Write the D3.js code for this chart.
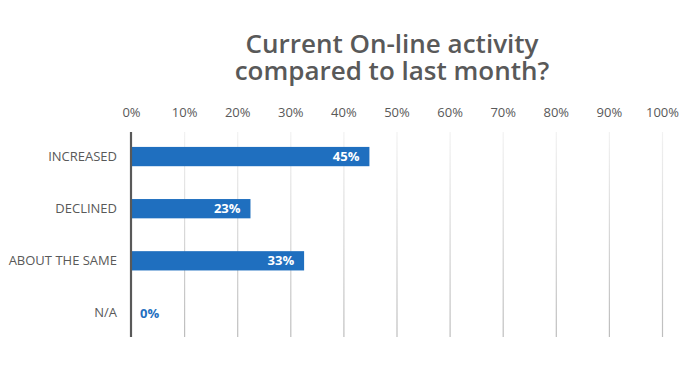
<!DOCTYPE html>
<html>
<head>
<meta charset="utf-8">
<script src="https://cdn.jsdelivr.net/npm/d3@7"></script>
<style>
  html, body { margin: 0; padding: 0; background: #fff; }
  svg { display: block; }
</style>
</head>
<body>
<svg id="chart" width="700" height="379"></svg>
<script>
const titleLines = ["Current On-line activity", "compared to last month?"];
const categories = ["INCREASED", "DECLINED", "ABOUT THE SAME", "N/A"];
const values = [44.9, 22.5, 32.6, 0];
const labels = ["45%", "23%", "33%", "0%"];
const tickValues = [0, 10, 20, 30, 40, 50, 60, 70, 80, 90, 100];
const tickLabels = ["0%", "10%", "20%", "30%", "40%", "50%", "60%", "70%", "80%", "90%", "100%"];

const svg = d3.select("#chart");
const FONT = "'Open Sans', sans-serif";
const TEXT = "#595959";
const BLUE = "#1F6FBF";

const x = d3.scaleLinear().domain([0, 100]).range([131, 662]);
const y = d3.scaleBand().domain(categories).range([130.5, 339]).paddingInner(0.63).paddingOuter(0.315);
const plotTop = 132, plotBottom = 337;

// gradient for gridlines
const defs = svg.append("defs");
const grad = defs.append("linearGradient").attr("id", "gridGrad")
  .attr("gradientUnits", "userSpaceOnUse")
  .attr("x1", 0).attr("y1", plotTop).attr("x2", 0).attr("y2", plotBottom);
grad.append("stop").attr("offset", "0%").attr("stop-color", "#f2f2f2");
grad.append("stop").attr("offset", "100%").attr("stop-color", "#bdbdbd");

// title
svg.append("g").selectAll("text").data(titleLines).join("text")
  .attr("text-anchor", "middle")
  .attr("font-family", FONT).attr("font-weight", 600)
  .attr("font-size", 26).attr("fill", TEXT)
  .attr("x", 392).attr("y", (d, i) => 52.5 + i * 27.5).text(d => d);

// gridlines
svg.append("g").selectAll("line").data(tickValues.slice(1)).join("line")
  .attr("x1", d => x(d) + 0.5).attr("x2", d => x(d) + 0.5)
  .attr("y1", plotTop).attr("y2", plotBottom)
  .attr("stroke", "url(#gridGrad)").attr("stroke-width", 1.2);

// top axis tick labels
const xAxis = d3.axisTop(x).tickValues(tickValues).tickSize(0).tickPadding(0)
  .tickFormat((d, i) => tickLabels[i]);
const gx = svg.append("g").attr("transform", "translate(0,117)").call(xAxis);
gx.select(".domain").remove();
gx.selectAll("text").attr("font-family", FONT).attr("font-size", 13).attr("fill", TEXT);

// bars
svg.append("g").selectAll("rect").data(categories).join("rect")
  .attr("x", x(0)).attr("y", d => y(d))
  .attr("width", (d, i) => x(values[i]) - x(0))
  .attr("height", y.bandwidth())
  .attr("fill", BLUE);

// value labels
svg.append("g").selectAll("text").data(categories).join("text")
  .attr("x", (d, i) => values[i] > 5 ? x(values[i]) - 10 : x(values[i]) + 9)
  .attr("y", d => y(d) + y.bandwidth() / 2)
  .attr("dy", "0.36em")
  .attr("text-anchor", (d, i) => values[i] > 5 ? "end" : "start")
  .attr("font-family", FONT).attr("font-weight", 700).attr("font-size", 13)
  .attr("fill", (d, i) => values[i] > 5 ? "#fff" : BLUE)
  .text((d, i) => labels[i]);

// category axis
const yAxis = d3.axisLeft(y).tickSize(0).tickPadding(14);
const gy = svg.append("g").attr("transform", `translate(${x(0)},0)`).call(yAxis);
gy.select(".domain").remove();
gy.selectAll("text").attr("font-family", FONT).attr("font-size", 13).attr("fill", TEXT);

// vertical axis line
svg.append("line")
  .attr("x1", x(0)).attr("x2", x(0)).attr("y1", plotTop).attr("y2", plotBottom)
  .attr("stroke", "#595959").attr("stroke-width", 2.2);
</script>
</body>
</html>
